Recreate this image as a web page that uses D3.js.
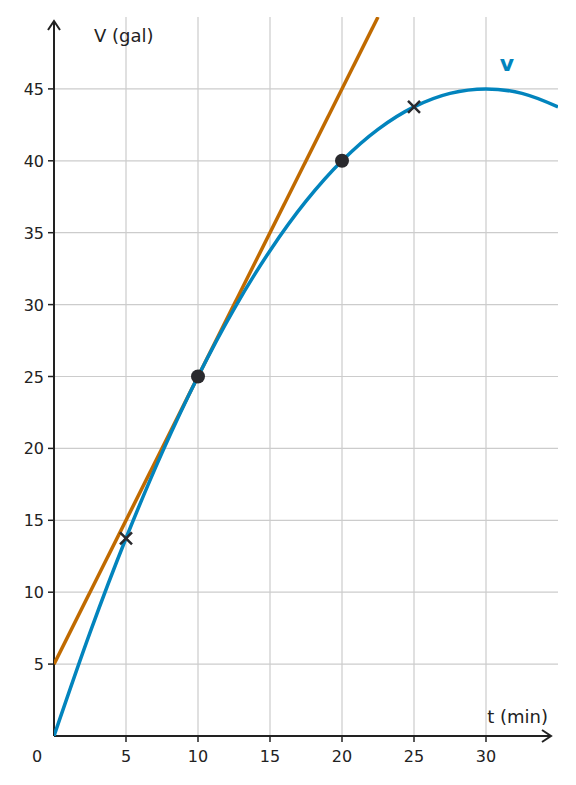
<!DOCTYPE html>
<html><head><meta charset="utf-8">
<script src="https://cdn.jsdelivr.net/npm/d3@7"></script>
<style>body{margin:0;background:#fff}text{font-family:"DejaVu Sans",sans-serif;fill:#222}</style>
</head><body><div id="chart"></div>
<script>
var xTicks = [5, 10, 15, 20, 25, 30];
var yTicks = [5, 10, 15, 20, 25, 30, 35, 40, 45];
var curveT = [0, 2.5, 5, 7.5, 10, 12.5, 15, 17.5, 20, 22.5, 25, 27.5, 30, 32.5, 35];
var curveV = [0, 7.19, 13.75, 19.69, 25, 29.69, 33.75, 37.19, 40, 42.19, 43.75, 44.69, 45, 44.69, 43.75];
var tangentT = [0, 22.5];
var tangentV = [5, 50];
var dotT = [10, 20], dotV = [25, 40];
var crossT = [5, 25], crossV = [13.75, 43.75];

var W = 576, H = 785;
var x = d3.scaleLinear().domain([0, 35]).range([54, 558]);
var y = d3.scaleLinear().domain([0, 50]).range([736, 17]);
var svg = d3.select('#chart').append('svg').attr('width', W).attr('height', H);
var clip = svg.append('clipPath').attr('id', 'c').append('rect')
  .attr('x', 54).attr('y', 17).attr('width', 504).attr('height', 719);

svg.append('g').selectAll('line').data(xTicks).join('line')
  .attr('x1', d => x(d)).attr('x2', d => x(d)).attr('y1', 17).attr('y2', 736)
  .attr('stroke', '#ccc').attr('stroke-width', 1.2);
svg.append('g').selectAll('line').data(yTicks).join('line')
  .attr('x1', 54).attr('x2', 558).attr('y1', d => y(d)).attr('y2', d => y(d))
  .attr('stroke', '#ccc').attr('stroke-width', 1.2);

// axes
svg.append('line').attr('x1', 54).attr('x2', 550).attr('y1', 736).attr('y2', 736).attr('stroke', '#222').attr('stroke-width', 2);
svg.append('line').attr('x1', 54).attr('x2', 54).attr('y1', 736).attr('y2', 22).attr('stroke', '#222').attr('stroke-width', 2);
svg.append('path').attr('d', 'M542,730 L551,736 L542,742').attr('fill', 'none').attr('stroke', '#222').attr('stroke-width', 2);
svg.append('path').attr('d', 'M48,30 L54,21 L60,30').attr('fill', 'none').attr('stroke', '#222').attr('stroke-width', 2);

svg.append('g').selectAll('line').data(xTicks).join('line')
  .attr('x1', d => x(d)).attr('x2', d => x(d)).attr('y1', 736).attr('y2', 742).attr('stroke', '#222').attr('stroke-width', 1.5);
svg.append('g').selectAll('line').data(yTicks).join('line')
  .attr('x1', 48).attr('x2', 54).attr('y1', d => y(d)).attr('y2', d => y(d)).attr('stroke', '#222').attr('stroke-width', 1.5);
svg.append('g').selectAll('text').data(xTicks).join('text')
  .attr('x', d => x(d)).attr('y', 762).attr('text-anchor', 'middle').attr('font-size', 16).text(d => d);
svg.append('g').selectAll('text').data(yTicks).join('text')
  .attr('x', 44).attr('y', d => y(d) + 6).attr('text-anchor', 'end').attr('font-size', 16).text(d => d);
svg.append('text').attr('x', 37).attr('y', 762).attr('text-anchor', 'middle').attr('font-size', 16).text('0');
svg.append('text').attr('x', 548).attr('y', 723).attr('text-anchor', 'end').attr('font-size', 18).text('t (min)');
svg.append('text').attr('x', 94).attr('y', 42).attr('font-size', 18).text('V (gal)');

var plot = svg.append('g').attr('clip-path', 'url(#c)');
plot.append('path').datum(tangentT.map((t, i) => [t, tangentV[i]]))
  .attr('d', d3.line().x(d => x(d[0])).y(d => y(d[1])))
  .attr('fill', 'none').attr('stroke', '#c06a00').attr('stroke-width', 3.5);
plot.append('path').datum(curveT.map((t, i) => [t, curveV[i]]))
  .attr('d', d3.line().curve(d3.curveCatmullRom).x(d => x(d[0])).y(d => y(d[1])))
  .attr('fill', 'none').attr('stroke', '#0284bd').attr('stroke-width', 3.5);

svg.append('text').attr('x', 507).attr('y', 71).attr('text-anchor', 'middle')
  .attr('font-size', 22).attr('font-weight', 'bold').style('fill', '#0284bd').text('v');

svg.append('g').selectAll('circle').data(dotT).join('circle')
  .attr('cx', d => x(d)).attr('cy', (d, i) => y(dotV[i])).attr('r', 7).attr('fill', '#2a2a2e');
var cr = svg.append('g').selectAll('path').data(crossT).join('path')
  .attr('d', (d, i) => { var cx = x(d), cy = y(crossV[i]); return 'M' + (cx - 6) + ',' + (cy - 6) + 'L' + (cx + 6) + ',' + (cy + 6) + 'M' + (cx - 6) + ',' + (cy + 6) + 'L' + (cx + 6) + ',' + (cy - 6); })
  .attr('stroke', '#2a2a2e').attr('stroke-width', 2.5);
</script></body></html>
